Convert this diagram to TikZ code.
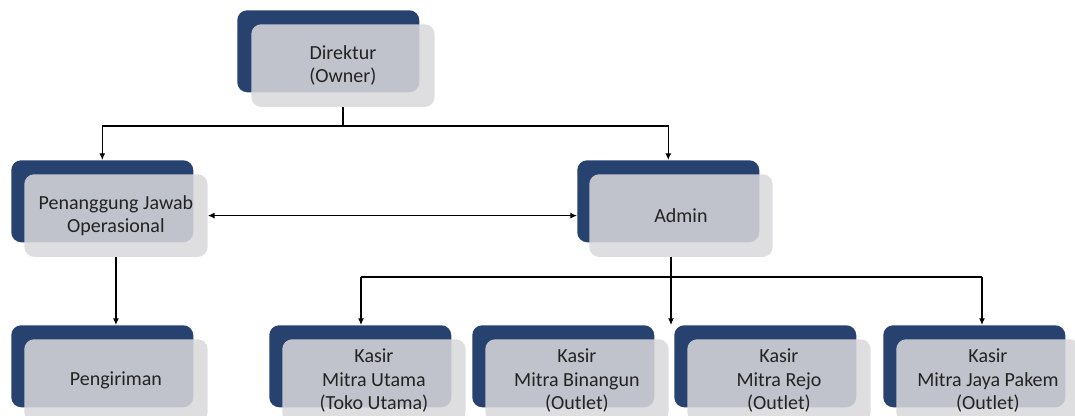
\documentclass[tikz,border=0pt]{standalone}
\usepackage{fontspec}
\setmainfont{Carlito}
\usetikzlibrary{arrows.meta}
\definecolor{navy}{RGB}{40,66,112}
\definecolor{pale}{RGB}{217,217,219}
\definecolor{ink}{RGB}{35,35,35}
\tikzset{
  darkbox/.style={fill=navy, rounded corners=7.5pt, minimum width=136.5pt, minimum height=61.5pt, inner sep=0pt, anchor=north west},
  lightbox/.style={fill=pale, fill opacity=0.86, text opacity=1, text=ink, rounded corners=7.5pt, minimum width=137.5pt, minimum height=62pt, inner sep=0pt, anchor=north west, align=center, font=\fontsize{15}{17.5}\selectfont},
  conn/.style={line width=0.9pt, black},
  arr/.style={conn, -{Latex[length=5pt,width=4.5pt]}},
  arrtwo/.style={conn, {Latex[length=5pt,width=4.5pt]}-{Latex[length=5pt,width=4.5pt]}}
}
\begin{document}
\begin{tikzpicture}[x=0.75pt,y=-0.75pt]
\useasboundingbox (0,0) rectangle (1075,416);
% units
\node[darkbox] (dirD) at (237,10) {};
\node[lightbox] (dirL) at (251,24) {Direktur\\(Owner)};
\node[darkbox] (penD) at (11,160) {};
\node[lightbox] (penL) at (24,174) {Penanggung Jawab\\Operasional};
\node[darkbox] (admD) at (577,160) {};
\node[lightbox] (admL) at (589,174) {Admin};
\node[darkbox] (pgD) at (11,325) {};
\node[lightbox] (pgL) at (24,339) {Pengiriman};
\node[darkbox] (utD) at (269,325) {};
\node[lightbox] (utL) at (282,339) {Kasir\\Mitra Utama\\(Toko Utama)};
\node[darkbox] (bnD) at (472,325) {};
\node[lightbox] (bnL) at (485,339) {Kasir\\Mitra Binangun\\(Outlet)};
\node[darkbox] (rjD) at (674,325) {};
\node[lightbox] (rjL) at (687,339) {Kasir\\Mitra Rejo\\(Outlet)};
\node[darkbox] (jyD) at (883,325) {};
\node[lightbox] (jyL) at (896,339) {Kasir\\Mitra Jaya Pakem\\(Outlet)};
% connectors
\coordinate (dirBus) at (dirL.south |- 0,126);
\draw[conn] (dirL.south) -- (dirBus);
\draw[arr] (dirBus) -| (penD.north);
\draw[arr] (dirBus) -| (admD.north);
\draw[arr] (penL.south) -- (penL.south |- pgD.north);
\draw[arrtwo] (penL.east) -- (penL.east -| admD.west);
\coordinate (admOut) at (671,257);
\coordinate (admEnd) at (671,325);
\coordinate (busL) at (361,277);
\coordinate (busR) at (982,277);
\coordinate (jyIn) at (982,325);
\draw[arr] (admOut) -- (admEnd);
\draw[conn] (busL) -- (busR);
\draw[arr] (busL) -- (busL |- utD.north);
\draw[arr] (busR) -- (jyIn);
\end{tikzpicture}
\end{document}
